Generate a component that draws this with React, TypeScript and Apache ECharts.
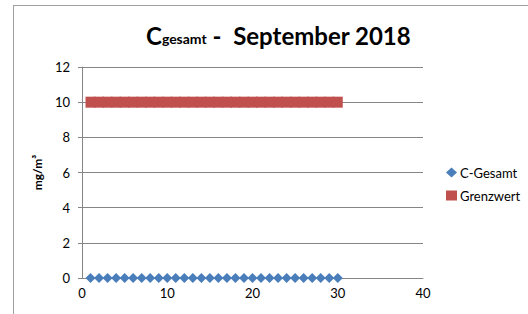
import React, { useEffect, useRef } from "react";
import * as echarts from "echarts";

const days = [1,2,3,4,5,6,7,8,9,10,11,12,13,14,15,16,17,18,19,20,21,22,23,24,25,26,27,28,29,30];
const cGesamt = [0,0,0,0,0,0,0,0,0,0,0,0,0,0,0,0,0,0,0,0,0,0,0,0,0,0,0,0,0,0];
const grenzwert = [10,10,10,10,10,10,10,10,10,10,10,10,10,10,10,10,10,10,10,10,10,10,10,10,10,10,10,10,10,10];
const seriesNames = ["C-Gesamt", "Grenzwert"];

const FONT = "Lato, 'Open Sans', sans-serif";

export default function App() {
  const ref = useRef<HTMLDivElement>(null);
  useEffect(() => {
    document.body.style.margin = "0";
    const chart = echarts.init(ref.current!, null, { renderer: "svg" });
    chart.setOption({
      animation: false,
      backgroundColor: "#fff",
      textStyle: { fontFamily: FONT },
      title: {
        text: "{c|C}{s|gesamt}{c| -  }{c|September 2018}",
        left: 141,
        top: 18,
        textStyle: {
          rich: {
            c: { fontSize: 24, fontWeight: "bold", color: "#000", fontFamily: FONT, verticalAlign: "bottom" },
            s: { fontSize: 14, fontWeight: "bold", color: "#000", fontFamily: FONT, verticalAlign: "bottom", padding: [0, 0, 2, 0] },
          },
        },
      },
      graphic: [
        { type: "line", shape: { x1: 13, y1: 5.5, x2: 528, y2: 5.5 }, style: { stroke: "#a0a0a0", lineWidth: 1 } },
        { type: "line", shape: { x1: 13.5, y1: 5, x2: 13.5, y2: 314 }, style: { stroke: "#a0a0a0", lineWidth: 1 } },
      ],
      legend: {
        orient: "vertical",
        left: 441,
        top: 161,
        itemGap: 10,
        itemWidth: 11,
        itemHeight: 10,
        textStyle: { fontSize: 13, color: "#000", fontFamily: FONT, padding: [0, 0, 0, -2] },
        data: [
          { name: seriesNames[0], icon: "diamond" },
          { name: seriesNames[1], icon: "rect" },
        ],
      },
      grid: { left: 82, right: 105, top: 67, bottom: 36, containLabel: false },
      xAxis: {
        type: "value",
        min: 0,
        max: 40,
        interval: 10,
        axisLine: { show: true, onZero: false, lineStyle: { color: "#868686" } },
        axisTick: { show: false },
        splitLine: { show: false },
        axisLabel: { fontSize: 13, color: "#000", margin: 8, fontFamily: FONT },
      },
      yAxis: {
        type: "value",
        min: 0,
        max: 12,
        interval: 2,
        name: "mg/m³",
        nameLocation: "middle",
        nameGap: 39,
        nameTextStyle: { fontSize: 12, fontWeight: "bold", color: "#000", fontFamily: FONT },
        axisLine: { show: true, lineStyle: { color: "#868686" } },
        axisTick: { show: true, length: 4, lineStyle: { color: "#868686" } },
        splitLine: { show: true, lineStyle: { color: "#868686" } },
        axisLabel: { fontSize: 13, color: "#000", margin: 12, fontFamily: FONT },
      },
      series: [
        {
          name: seriesNames[0],
          type: "scatter",
          symbol: "diamond",
          symbolSize: 10,
          itemStyle: { color: "#4A7EBB", opacity: 1 },
          data: days.map((d, i) => [d, cGesamt[i]]),
          z: 3,
        },
        {
          name: seriesNames[1],
          type: "scatter",
          symbol: "rect",
          symbolSize: [10, 11],
          itemStyle: { color: "#C0504D", opacity: 1 },
          data: days.map((d, i) => [d, grenzwert[i]]),
          z: 3,
        },
      ],
    });
    return () => chart.dispose();
  }, []);
  return <div ref={ref} style={{ width: 528, height: 314 }} />;
}
